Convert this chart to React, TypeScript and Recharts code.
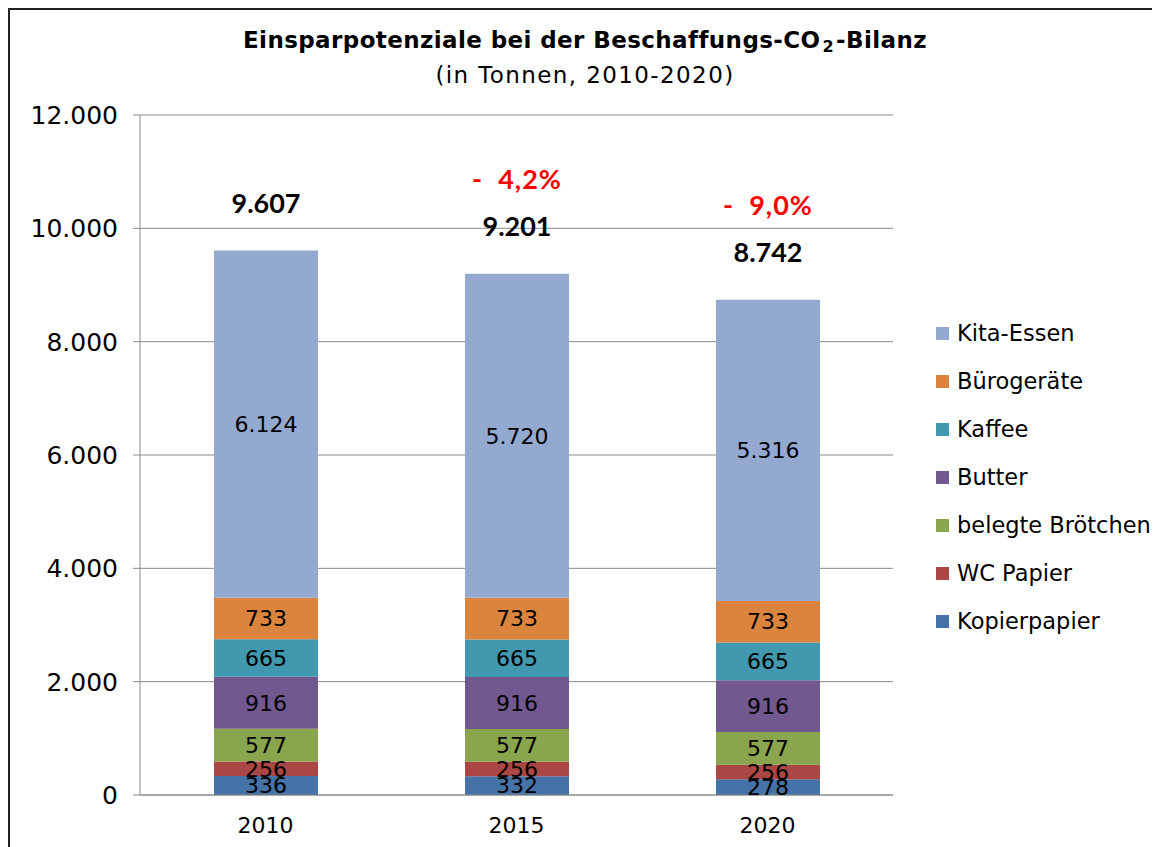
import React from 'react';
import { BarChart, Bar, XAxis, YAxis, CartesianGrid, Legend, LabelList } from 'recharts';

const categories = ['2010', '2015', '2020'];
const kopierpapier = [336, 332, 278];
const wcPapier = [256, 256, 256];
const belegteBroetchen = [577, 577, 577];
const butter = [916, 916, 916];
const kaffee = [665, 665, 665];
const buerogeraete = [733, 733, 733];
const kitaEssen = [6124, 5720, 5316];
const totals = [9607, 9201, 8742];
const changes = ['', '-  4,2%', '-  9,0%'];
const yTicks = [0, 2000, 4000, 6000, 8000, 10000, 12000];
const edgeTicks = [0, 1, 2, 3];

const series = [
  { key: 'kopierpapier', name: 'Kopierpapier', color: '#4572A7', values: kopierpapier },
  { key: 'wcPapier', name: 'WC Papier', color: '#AA4643', values: wcPapier },
  { key: 'belegteBroetchen', name: 'belegte Brötchen', color: '#89A54E', values: belegteBroetchen },
  { key: 'butter', name: 'Butter', color: '#71588F', values: butter },
  { key: 'kaffee', name: 'Kaffee', color: '#4198AF', values: kaffee },
  { key: 'buerogeraete', name: 'Bürogeräte', color: '#DB843D', values: buerogeraete },
  { key: 'kitaEssen', name: 'Kita-Essen', color: '#93A9CF', values: kitaEssen },
];

const data = categories.map((c, i) => {
  const row: any = { category: c, total: totals[i], change: changes[i] };
  series.forEach((s) => { row[s.key] = s.values[i]; });
  return row;
});

const fmt = (v: any) => String(v).replace(/\B(?=(\d{3})+(?!\d))/g, '.');

const FONT = '"DejaVu Sans", Verdana, sans-serif';
const BOLD_FONT = 'Lato, "Open Sans", sans-serif';

const renderTotals = (props: any) => {
  const { x, y, width, index } = props;
  const cx = Number(x) + Number(width) / 2;
  const ty = Number(y) - 48;
  return (
    <g>
      <text x={cx} y={ty} textAnchor="middle" dominantBaseline="central" fontFamily={BOLD_FONT} fontWeight={700} fontSize={27} fill="#000">
        {fmt(totals[index])}
      </text>
      {changes[index] ? (
        <text x={cx} y={ty - 47} textAnchor="middle" dominantBaseline="central" fontFamily={BOLD_FONT} fontWeight={700} fontSize={27} fill="#FF0000" letterSpacing={1} style={{ whiteSpace: 'pre' }}>
          {changes[index]}
        </text>
      ) : null}
    </g>
  );
};

const renderLegend = (props: any) => {
  const payload: any[] = props.payload || [];
  const ordered = [...series].reverse().map((s) => {
    const p = payload.find((q: any) => q.value === s.name || q.dataKey === s.key);
    return { name: s.name, color: p ? p.color : s.color };
  });
  return (
    <div style={{ fontFamily: FONT, fontSize: 22.5, color: '#000' }}>
      {ordered.map((p) => (
        <div key={p.name} style={{ height: 48, display: 'flex', alignItems: 'center', whiteSpace: 'nowrap' }}>
          <span style={{ display: 'inline-block', width: 13, height: 13, background: p.color, marginRight: 8 }} />
          <span>{p.name}</span>
        </div>
      ))}
    </div>
  );
};

export default function App() {
  return (
    <div style={{ position: 'relative', width: 1150, height: 837, borderLeft: '2px solid #222', borderTop: '2px solid #222', background: '#fff' }}>
      <div style={{ position: 'absolute', left: 0, width: 1150, top: 16, textAlign: 'center', fontFamily: FONT, fontWeight: 700, fontSize: 23, letterSpacing: 0.4, color: '#000', lineHeight: '28px' }}>
        Einsparpotenziale bei der Beschaffungs-CO<span style={{ fontSize: 16, position: 'relative', top: 4, margin: '0 2px' }}>2</span>-Bilanz
      </div>
      <div style={{ position: 'absolute', left: 0, width: 1150, top: 51, textAlign: 'center', fontFamily: FONT, fontSize: 23, letterSpacing: 1.4, color: '#000', lineHeight: '28px' }}>
        (in Tonnen, 2010-2020)
      </div>
      <BarChart width={1150} height={837} data={data} margin={{ top: 105, right: 267, bottom: 0, left: 0 }}>
        <CartesianGrid vertical={false} stroke="#8a8a8a" />
        <XAxis
          xAxisId="edges"
          type="number"
          domain={[0, 3]}
          ticks={edgeTicks}
          tick={false}
          tickSize={6}
          height={0}
          axisLine={false}
          tickLine={{ stroke: '#8a8a8a' }}
        />
        <XAxis
          dataKey="category"
          height={52}
          tickSize={6}
          tickMargin={16}
          tickLine={false}
          axisLine={{ stroke: '#8a8a8a' }}
          tick={{ fontFamily: FONT, fontSize: 22, fill: '#000' }}
        />
        <YAxis
          width={130}
          domain={[0, 12000]}
          ticks={yTicks}
          interval={0}
          tickFormatter={fmt}
          tickSize={7}
          tickMargin={15}
          axisLine={{ stroke: '#8a8a8a' }}
          tickLine={{ stroke: '#8a8a8a' }}
          tick={{ fontFamily: FONT, fontSize: 25, fill: '#000' }}
        />
        <Legend
          layout="vertical"
          align="center"
          verticalAlign="middle"
          wrapperStyle={{ left: 926, top: 299, width: 230 }}
          content={renderLegend}
        />
        {series.map((s, i) => (
          <Bar key={s.key} dataKey={s.key} name={s.name} stackId="a" fill={s.color} barSize={104} isAnimationActive={false}>
            <LabelList dataKey={s.key} position="center" formatter={fmt} fill="#000" fontFamily={FONT} fontSize={22} />
            {i === series.length - 1 ? <LabelList dataKey="total" content={renderTotals} /> : null}
          </Bar>
        ))}
      </BarChart>
    </div>
  );
}
